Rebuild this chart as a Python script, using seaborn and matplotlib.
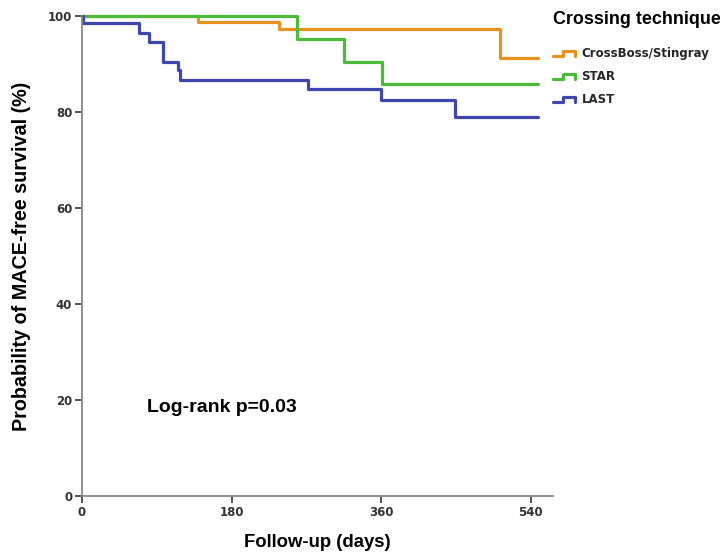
import numpy as np
import pandas as pd
import seaborn as sns
import matplotlib
matplotlib.use("Agg")
import matplotlib.pyplot as plt
from matplotlib.legend_handler import HandlerBase
from matplotlib.lines import Line2D

# ---- data ----
groups = ["CrossBoss/Stingray", "STAR", "LAST"]
cb_days = [0, 140, 237, 503, 549]
cb_surv = [100, 98.7, 97.2, 91.2, 91.2]
star_days = [0, 259, 316, 361, 549]
star_surv = [100, 95.2, 90.5, 85.8, 85.8]
last_days = [0, 1, 69, 81, 98, 116, 118, 272, 360, 449, 549]
last_surv = [100, 98.5, 96.4, 94.5, 90.4, 88.7, 86.7, 84.8, 82.5, 79.0, 79.0]
x_ticks = [0, 180, 360, 540]
y_ticks = [0, 20, 40, 60, 80, 100]
colors = {"CrossBoss/Stingray": "#E8921E", "STAR": "#4DBB3A", "LAST": "#3D47AE"}

frames = []
for g, d, s in zip(groups, [cb_days, star_days, last_days], [cb_surv, star_surv, last_surv]):
    frames.append(pd.DataFrame({"days": d, "surv": s, "group": g}))
df = pd.concat(frames, ignore_index=True)

sns.set_style("white")
fig = plt.figure(figsize=(7.2, 5.57), dpi=100)
ax = fig.add_axes([82/720, 1-496/557, (553-82)/720, (496-16)/557])

sns.lineplot(data=df, x="days", y="surv", hue="group", palette=colors,
             estimator=None, sort=False, drawstyle="steps-post",
             linewidth=2.3, legend=False, ax=ax, clip_on=False)

ax.set_xlim(0, 567)
ax.set_ylim(0, 100)
ax.set_xticks(x_ticks)
ax.set_yticks(y_ticks)
for sp in ["top", "right"]:
    ax.spines[sp].set_visible(False)
for sp in ["left", "bottom"]:
    ax.spines[sp].set_color("#888888")
    ax.spines[sp].set_linewidth(1.3)
ax.tick_params(axis="both", direction="out", length=5, width=1.3, color="#444444",
               labelsize=8.5, labelcolor="#333333", pad=2, left=True, bottom=True)
for lab in ax.get_xticklabels() + ax.get_yticklabels():
    lab.set_fontweight("bold")

ax.set_xlabel("Follow-up (days)", fontsize=13.3, fontweight="bold", color="black",
              family="Liberation Sans", labelpad=11)
ax.set_ylabel("Probability of MACE-free survival (%)", fontsize=14.2, fontweight="bold",
              color="black", family="Liberation Sans", labelpad=12)

ax.text(0.139, 0.185, "Log-rank p=0.03", transform=ax.transAxes, fontsize=14,
        fontweight="bold", family="Liberation Sans", va="center", ha="left", color="black")


class StepHandler(HandlerBase):
    def create_artists(self, legend, orig_handle, xdescent, ydescent, width, height, fontsize, trans):
        x0 = -xdescent
        y0 = -ydescent
        xs = [x0, x0 + width*0.45, x0 + width*0.45, x0 + width*0.95, x0 + width*0.95]
        ys = [y0 + height*0.15, y0 + height*0.15, y0 + height*0.75, y0 + height*0.75, y0 + height*0.15]
        ln = Line2D(xs, ys, color=orig_handle.get_color(), linewidth=2.3, transform=trans)
        return [ln]


handles = [Line2D([0], [0], color=colors[g]) for g in groups]
leg = fig.legend(handles, groups, loc="upper left", bbox_to_anchor=(542/720, 1-0/557),
                 frameon=False, handler_map={Line2D: StepHandler()},
                 handlelength=2.0, handletextpad=0.45, labelspacing=0.85,
                 prop={"size": 8.5, "weight": "bold", "family": "DejaVu Sans"},
                 title="Crossing technique", alignment="left")
leg.get_title().set_fontsize(12.9)
leg.get_title().set_fontweight("bold")
leg.get_title().set_family("Liberation Sans")
leg.get_title().set_color("black")
leg._legend_box.sep = 14

fig.savefig("out.png", dpi=100)
